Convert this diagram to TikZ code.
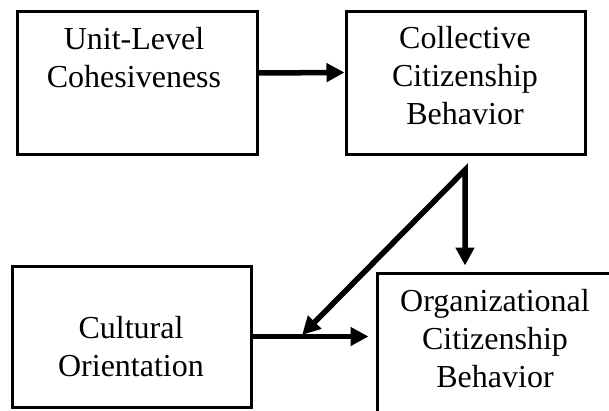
\documentclass[tikz,border=0pt]{standalone}
\usepackage{fontspec}
\setmainfont{Liberation Serif}
\usetikzlibrary{arrows.meta}
\begin{document}
\begin{tikzpicture}[x=1pt,y=-1pt,
  box/.style={draw=black, line width=3pt, rectangle, inner sep=0pt},
  lbl/.style={align=center, inner sep=0pt, font=\fontsize{32}{38}\selectfont, anchor=base},
  arr/.style={line width=5.5pt, -{Triangle[length=18pt,width=18pt]}, line join=miter}
]
\useasboundingbox (0,0) rectangle (609,411);
\clip (0,0) rectangle (609,411);
\fill[white] (0,0) rectangle (609,411);

\node[box, minimum width=240pt, minimum height=143pt] (b1) at (137,83.5) {};
\node[box, minimum width=239pt, minimum height=142.5pt] (b2) at (465.5,83) {};
\node[box, minimum width=239pt, minimum height=141pt] (b3) at (131.5,336.5) {};
\node[box, minimum width=240pt, minimum height=143pt] (b4) at (497,344.5) {};

\node[lbl] (t1) at (134,88) {Unit-Level\\Cohesiveness};
\node[lbl] (t2) at (465,125) {Collective\\Citizenship\\Behavior};
\node[lbl] (t3) at (131,376) {Cultural\\Orientation};
\node[lbl] (t4) at (495,387) {Organizational\\Citizenship\\Behavior};

\coordinate (j) at (465,170);
\coordinate (m) at (300,337);

\draw[arr] ([yshift=10.5pt]b1.east) -- ([yshift=10.5pt]b2.west);
\draw[arr, shorten >=7pt] (b3.east) -- (b3.east -| b4.west);
\draw[line width=5.5pt, line join=miter, {Triangle[length=18pt,width=18pt]}-{Triangle[length=18pt,width=18pt]}, shorten <=3pt, shorten >=6pt] (m) -- (j) -- (j |- b4.north);
\end{tikzpicture}
\end{document}
